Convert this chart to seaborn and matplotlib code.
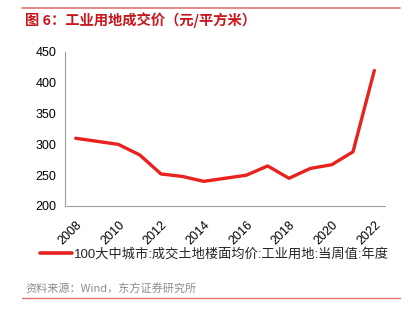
import matplotlib
matplotlib.use("Agg")
import matplotlib.pyplot as plt
import seaborn as sns
import pandas as pd
from matplotlib.lines import Line2D

years = [2008, 2009, 2010, 2011, 2012, 2013, 2014, 2015, 2016, 2017, 2018, 2019, 2020, 2021, 2022]
prices = [310, 305, 300, 283, 252, 248, 240, 245, 250, 265, 245, 261, 267, 288, 420]
xticks = [2008, 2010, 2012, 2014, 2016, 2018, 2020, 2022]
yticks = [200, 250, 300, 350, 400, 450]
series_name = "100大中城市:成交土地楼面均价:工业用地:当周值:年度"
title = "图 6：工业用地成交价（元/平方米）"
source = "资料来源：Wind，东方证券研究所"

sns.set_theme(style="white")
plt.rcParams['font.family'] = ['Liberation Sans', 'Noto Sans CJK SC', 'DejaVu Sans']

df = pd.DataFrame({"year": years, "price": prices})

fig = plt.figure(figsize=(4.17, 3.09), dpi=100)
ax = fig.add_axes([65/417, 1-206/309, (385-65)/417, (206-52)/309])
red = "#e8231f"
sns.lineplot(data=df, x="year", y="price", ax=ax, color=red, linewidth=2.4, legend=False)

ax.set_xlim(2007.5, 2022.5)
ax.set_ylim(200, 450)
ax.set_xticks(xticks)
ax.set_xticklabels([str(t) for t in xticks], rotation=45, ha="right", rotation_mode="anchor", fontsize=9)
ax.set_yticks(yticks)
ax.set_yticklabels([str(t) for t in yticks], fontsize=9)
ax.tick_params(axis='both', length=0, colors="#000000")
ax.tick_params(axis='x', pad=9)
ax.tick_params(axis='y', pad=6)
ax.set_xlabel("")
ax.set_ylabel("")
for s in ["top", "right"]:
    ax.spines[s].set_visible(False)
for s in ["left", "bottom"]:
    ax.spines[s].set_color("#a0a0a0")
    ax.spines[s].set_linewidth(0.8)

# legend
handle = Line2D([0], [0], color=red, linewidth=2.6)
fig.legend([handle], [series_name], loc="center left", bbox_to_anchor=(40/417, 1-254/309),
           frameon=False, fontsize=9.5, handlelength=2.4, handletextpad=0.2, borderaxespad=0,
           borderpad=0)

# title and decorations
fig.text(25/417, 1-20/309, title, color="#c8161d", fontsize=10.3, fontweight="bold",
         va="center", ha="left", family=['Noto Sans CJK SC', 'DejaVu Sans'])
fig.text(25/417, 1-289/309, source, color="#8c8c8c", fontsize=8,
         va="center", ha="left", family=['Noto Sans CJK SC', 'DejaVu Sans'])
fig.add_artist(Line2D([22/417, 400/417], [1-8/309, 1-8/309], color="#e57373", linewidth=1.2))
fig.add_artist(Line2D([22/417, 400/417], [1-298/309, 1-298/309], color="#e57373", linewidth=1.0))

fig.savefig("out.png", dpi=100)
